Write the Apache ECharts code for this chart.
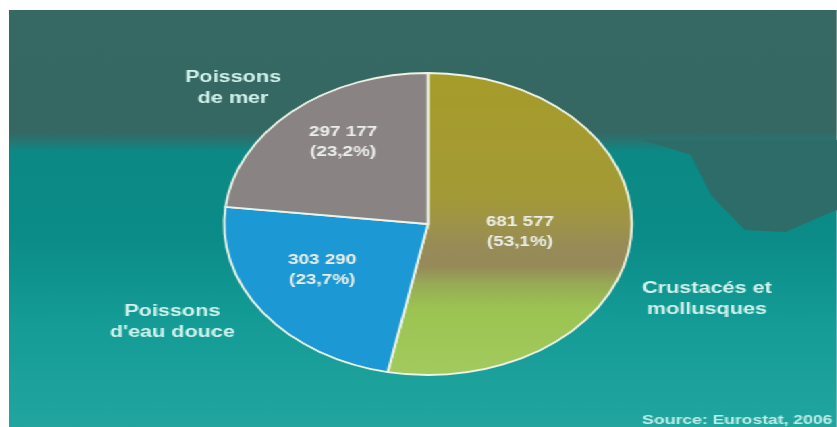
<!DOCTYPE html>
<html>
<head>
<meta charset="utf-8">
<script src="https://cdn.jsdelivr.net/npm/echarts@6/dist/echarts.min.js"></script>
<style>
  html, body { margin: 0; padding: 0; width: 837px; height: 427px; overflow: hidden; background: #ffffff; }
  #chart {
    position: absolute; left: 9px; top: 10px; width: 613px; height: 417px;
    transform: scaleX(1.35); transform-origin: 0 0;
    background: linear-gradient(to bottom, #366864 0%, #356763 29%, #2a7270 31%, #0c8985 34%, #0b8c88 55%, #159c97 75%, #22a59f 100%);
  }
</style>
</head>
<body>
<div id="chart"></div>
<script>
// ---- data ----
const categories = ['Crustacés et\nmollusques', "Poissons\nd'eau douce", 'Poissons\nde mer'];
const values = [681577, 303290, 297177];
const percentLabels = ['53,1%', '23,7%', '23,2%'];
const sourceText = 'Source: Eurostat, 2006';

// ---- layout / style (chart coordinates, before the horizontal stretch) ----
const sliceColors = [
  { type: 'linear', x: 0, y: 0, x2: 0, y2: 1, colorStops: [
    { offset: 0, color: '#a69c2a' }, { offset: 0.4, color: '#a39a36' },
    { offset: 0.5, color: '#9e9348' }, { offset: 0.58, color: '#978b58' },
    { offset: 0.64, color: '#968b58' }, { offset: 0.7, color: '#97ab55' },
    { offset: 0.78, color: '#9cc452' }, { offset: 1, color: '#a2ca5e' } ] },
  '#1c98d4',
  '#8a8383'
];
const catPos = [[517, 289.5], [121, 312], [166, 78.5]];
const valPos = [[378.5, 222.5], [232, 260.5], [247.5, 132.5]];

function fmt(v) { return String(v).replace(/\B(?=(\d{3})+(?!\d))/g, ' '); }

const graphics = [{
  type: 'polygon', z: -1, silent: true,
  shape: { points: [[470, 130], [505, 145], [520, 185], [545, 220], [575, 222], [613, 200], [613, 130]] },
  style: { fill: '#2e6c69' }
}];
categories.forEach((c, i) => {
  graphics.push({
    type: 'text', z: 100,
    style: { text: c, x: catPos[i][0], y: catPos[i][1], textAlign: 'center', textVerticalAlign: 'middle',
      font: 'bold 16px "Liberation Sans", Arial, sans-serif', lineHeight: 21, fill: '#d2f2ec' }
  });
  graphics.push({
    type: 'text', z: 100,
    style: { text: fmt(values[i]) + '\n(' + percentLabels[i] + ')', x: valPos[i][0], y: valPos[i][1],
      textAlign: 'center', textVerticalAlign: 'middle',
      font: 'bold 14px "Liberation Sans", Arial, sans-serif', lineHeight: 20, fill: '#ecefe9' }
  });
});
graphics.push({
  type: 'text', z: 100,
  style: { text: sourceText, x: 610, y: 410, textAlign: 'right', textVerticalAlign: 'middle',
    font: 'bold 13px "Liberation Sans", Arial, sans-serif', fill: '#bfeee8' }
});

const chart = echarts.init(document.getElementById('chart'), null, { renderer: 'canvas' });
chart.setOption({
  animation: false,
  backgroundColor: 'transparent',
  graphic: graphics,
  series: [{
    type: 'pie',
    center: [310.4, 214],
    radius: [0, 151],
    startAngle: 90,
    clockwise: true,
    label: { show: false },
    labelLine: { show: false },
    emphasis: { disabled: true },
    itemStyle: { borderColor: '#eef3e6', borderWidth: 1.8 },
    data: values.map((v, i) => ({ value: v, name: categories[i].replace('\n', ' '), itemStyle: { color: sliceColors[i] } }))
  }]
});
</script>
</body>
</html>
